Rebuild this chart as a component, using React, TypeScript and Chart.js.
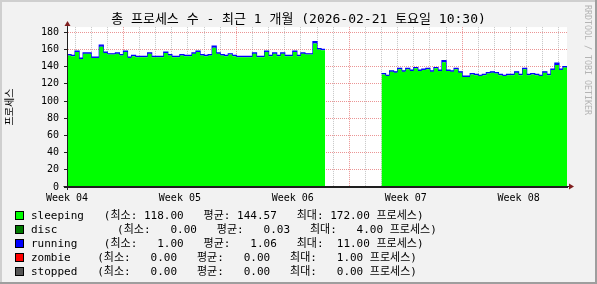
import React, { useEffect, useRef } from 'react';
import { Chart, registerables } from 'chart.js';

Chart.register(...registerables);

// ---- data -------------------------------------------------------------
const STEP_HOURS = 6; // one sample every 6 hours
const TOTAL_HOURS = 744; // one month window

const sleeping: (number | null)[] = [
  153, 152, 157, 149, 155, 155, 150, 150, 163, 156,
  154, 154, 155, 153, 157, 150, 152, 151, 151, 151,
  155, 151, 151, 151, 156, 153, 151, 151, 153, 152,
  152, 155, 157, 153, 152, 153, 162, 155, 153, 152,
  154, 152, 151, 151, 151, 151, 155, 151, 151, 157,
  152, 155, 152, 155, 152, 152, 157, 152, 155, 154,
  154, 167, 160, 159, 159,
  null, null, null, null, null, null, null, null, null, null, null, null, null,
  131, 129, 134, 133, 137, 134, 137, 135, 138, 135,
  136, 137, 134, 138, 135, 145, 135, 134, 137, 133,
  128, 128, 131, 130, 129, 130, 132, 133, 132, 130,
  129, 130, 130, 133, 130, 137, 130, 131, 130, 129,
  133, 130, 136, 142, 136, 139, 136,
];

const disc: (number | null)[] = [
  0, 0, 0, 0, 0, 0, 0, 0, 0, 0, 0, 0, 0, 0, 0, 0, 0, 0, 0, 0,
  0, 0, 0, 0, 0, 0, 0, 0, 0, 0, 0, 0, 0, 0, 0, 0, 0, 0, 0, 0,
  0, 0, 0, 0, 0, 0, 0, 0, 0, 0, 0, 0, 0, 0, 0, 0, 0, 0, 0, 0,
  0, 0, 0, 0, 0,
  null, null, null, null, null, null, null, null, null, null, null, null, null,
  0, 0, 0, 0, 0, 0, 0, 0, 0, 0, 0, 0, 0, 0, 0, 0, 0, 0, 0, 0,
  0, 0, 0, 0, 0, 0, 0, 0, 0, 0, 0, 0, 0, 0, 0, 0, 0, 0, 0, 0,
  0, 0, 0, 0, 0, 0, 0,
];

const running: (number | null)[] = [
  1, 1, 1, 1, 1, 1, 1, 1, 2, 1, 1, 1, 1, 1, 1, 1, 1, 1, 1, 1,
  1, 1, 1, 1, 1, 1, 1, 1, 1, 1, 1, 1, 1, 1, 1, 1, 2, 1, 1, 1,
  1, 1, 1, 1, 1, 1, 1, 1, 1, 1, 1, 1, 1, 1, 1, 1, 1, 1, 1, 1,
  1, 2, 1, 1, 1,
  null, null, null, null, null, null, null, null, null, null, null, null, null,
  1, 1, 1, 1, 1, 1, 1, 1, 1, 1, 1, 1, 1, 1, 1, 2, 1, 1, 1, 1,
  1, 1, 1, 1, 1, 1, 1, 1, 1, 1, 1, 1, 1, 1, 1, 1, 1, 1, 1, 1,
  1, 1, 1, 2, 1, 1, 1,
];

const zombie: (number | null)[] = [
  0, 0, 0, 0, 0, 0, 0, 0, 0, 0, 0, 0, 0, 0, 0, 0, 0, 0, 0, 0,
  0, 0, 0, 0, 0, 0, 0, 0, 0, 0, 0, 0, 0, 0, 0, 0, 0, 0, 0, 0,
  0, 0, 0, 0, 0, 0, 0, 0, 0, 0, 0, 0, 0, 0, 0, 0, 0, 0, 0, 0,
  0, 0, 0, 0, 0,
  null, null, null, null, null, null, null, null, null, null, null, null, null,
  0, 0, 0, 0, 0, 0, 0, 0, 0, 0, 0, 0, 0, 0, 0, 0, 0, 0, 0, 0,
  0, 0, 0, 0, 0, 0, 0, 0, 0, 0, 0, 0, 0, 0, 0, 0, 0, 0, 0, 0,
  0, 0, 0, 0, 0, 0, 0,
];

const stopped: (number | null)[] = [
  0, 0, 0, 0, 0, 0, 0, 0, 0, 0, 0, 0, 0, 0, 0, 0, 0, 0, 0, 0,
  0, 0, 0, 0, 0, 0, 0, 0, 0, 0, 0, 0, 0, 0, 0, 0, 0, 0, 0, 0,
  0, 0, 0, 0, 0, 0, 0, 0, 0, 0, 0, 0, 0, 0, 0, 0, 0, 0, 0, 0,
  0, 0, 0, 0, 0,
  null, null, null, null, null, null, null, null, null, null, null, null, null,
  0, 0, 0, 0, 0, 0, 0, 0, 0, 0, 0, 0, 0, 0, 0, 0, 0, 0, 0, 0,
  0, 0, 0, 0, 0, 0, 0, 0, 0, 0, 0, 0, 0, 0, 0, 0, 0, 0, 0, 0,
  0, 0, 0, 0, 0, 0, 0,
];

const seriesNames = ['sleeping', 'disc', 'running', 'zombie', 'stopped'];
const seriesValues = [sleeping, disc, running, zombie, stopped];
const seriesColors = ['#00FF00', '#007A00', '#0000FF', '#FF0000', '#555555'];
const statMin = [118.0, 0.0, 1.0, 0.0, 0.0];
const statAvg = [144.57, 0.03, 1.06, 0.0, 0.0];
const statMax = [172.0, 4.0, 11.0, 1.0, 0.0];

const weekLabels = ['Week 04', 'Week 05', 'Week 06', 'Week 07', 'Week 08'];
const weekLabelHours = [0, 168, 336, 504, 672];
const weekStartHours = [84, 252, 420, 588];
const firstMidnightHour = 12;

const yTickLabels = ['0', '20', '40', '60', '80', '100', '120', '140', '160', '180'];

const TITLE = '총 프로세스 수 - 최근 1 개월 (2026-02-21 토요일 10:30)';
const Y_TITLE = '프로세스';
const WATERMARK = 'RRDTOOL / TOBI OETIKER';

// ---- styles -----------------------------------------------------------
const MONO = "'DejaVu Sans Mono', 'Noto Sans CJK KR', monospace";
const BACK = '#F2F2F2';
const SHADE_A = '#CFCFCF';
const SHADE_B = '#9E9E9E';
const MINOR_GRID = 'rgba(140,140,140,0.5)';
const MAJOR_GRID = 'rgba(222,79,79,0.6)';
const AXIS = '#1F1F1F';
const ARROW = '#801F1F';
const NONE = 'rgba(0,0,0,0)';

const legendPad = [11, 13, 11, 10, 10];
const fmt = (v: number) => v.toFixed(2).padStart(6, ' ');

const rrdPlugin = {
  id: 'rrdDecor',
  beforeDraw(chart: any) {
    const { ctx, width, height, chartArea } = chart;
    ctx.save();
    ctx.fillStyle = BACK;
    ctx.fillRect(0, 0, width, height);
    ctx.fillStyle = SHADE_A;
    ctx.fillRect(0, 0, width, 2);
    ctx.fillRect(0, 0, 2, height);
    ctx.fillStyle = SHADE_B;
    ctx.fillRect(0, height - 2, width, 2);
    ctx.fillRect(width - 2, 0, 2, height);
    ctx.fillStyle = '#FFFFFF';
    ctx.fillRect(chartArea.left, chartArea.top, chartArea.right - chartArea.left, chartArea.bottom - chartArea.top);
    ctx.restore();
  },
  afterDraw(chart: any) {
    const { ctx, chartArea, width } = chart;
    const ax = Math.round(chartArea.left) + 0.5;
    const ay = Math.round(chartArea.bottom) - 0.5;
    ctx.save();
    ctx.strokeStyle = AXIS;
    ctx.lineWidth = 1;
    ctx.beginPath();
    ctx.moveTo(ax, chartArea.top - 1);
    ctx.lineTo(ax, chartArea.bottom + 3);
    ctx.moveTo(ax - 4, ay);
    ctx.lineTo(chartArea.right + 2, ay);
    ctx.stroke();
    ctx.fillStyle = ARROW;
    ctx.beginPath();
    ctx.moveTo(ax, chartArea.top - 6);
    ctx.lineTo(ax - 3, chartArea.top - 1);
    ctx.lineTo(ax + 3, chartArea.top - 1);
    ctx.closePath();
    ctx.fill();
    ctx.beginPath();
    ctx.moveTo(chartArea.right + 7, ay);
    ctx.lineTo(chartArea.right + 2, ay - 3);
    ctx.lineTo(chartArea.right + 2, ay + 3);
    ctx.closePath();
    ctx.fill();

    // legend
    ctx.font = `11px ${MONO}`;
    ctx.textBaseline = 'alphabetic';
    ctx.textAlign = 'left';
    const legendTop = chartArea.bottom + 24;
    seriesNames.forEach((name, i) => {
      const top = Math.round(legendTop + i * 14.1);
      ctx.fillStyle = seriesColors[i];
      ctx.fillRect(15, top, 9, 9);
      ctx.strokeStyle = '#000000';
      ctx.strokeRect(15.5, top + 0.5, 8, 8);
      const line =
        name.padEnd(legendPad[i], ' ') +
        `(최소: ${fmt(statMin[i])}   평균: ${fmt(statAvg[i])}   최대: ${fmt(statMax[i])} 프로세스)`;
      ctx.fillStyle = '#000000';
      ctx.fillText(line, 31, top + 7.5);
    });

    // watermark
    ctx.translate(width - 9.5, 5);
    ctx.rotate(Math.PI / 2);
    ctx.font = `8.3px ${MONO}`;
    ctx.fillStyle = '#B4B4B4';
    ctx.textBaseline = 'middle';
    ctx.fillText(WATERMARK, 0, 0);
    ctx.restore();
  },
};

export default function App() {
  const ref = useRef<HTMLCanvasElement | null>(null);

  useEffect(() => {
    document.body.style.margin = '0';
    const canvas = ref.current;
    if (!canvas) return;

    const hours = sleeping.map((_, i) => i * STEP_HOURS);
    const toPoints = (arr: (number | null)[]) => arr.map((v, i) => ({ x: hours[i], y: v }));

    const xTickHours: number[] = [...weekLabelHours];
    for (let h = firstMidnightHour; h <= TOTAL_HOURS; h += 24) xTickHours.push(h);
    xTickHours.sort((a, b) => a - b);
    const yTickValues: number[] = [];
    for (let v = 0; v <= 180; v += 10) yTickValues.push(v);

    const chart = new Chart(canvas, {
      type: 'line',
      data: {
        datasets: seriesNames.map((name, i) => ({
          label: name,
          data: toPoints(seriesValues[i]),
          backgroundColor: seriesColors[i],
          borderColor: seriesColors[i],
          borderWidth: name === 'running' ? 1.2 : 0,
          pointRadius: 0,
          fill: i === 0 ? 'origin' : '-1',
          stepped: 'before' as const,
          spanGaps: false,
        })),
      },
      options: {
        animation: false,
        responsive: false,
        events: [],
        layout: { padding: { left: 0, right: 0, top: 0, bottom: 77 } },
        plugins: {
          legend: { display: false },
          tooltip: { enabled: false },
          title: {
            display: true,
            text: TITLE,
            color: '#000000',
            font: { family: MONO, size: 13, weight: 'normal' },
            padding: { top: 11.5, bottom: 0 },
          },
        },
        scales: {
          x: {
            type: 'linear',
            min: 0,
            max: TOTAL_HOURS,
            z: 1,
            afterBuildTicks: (scale: any) => {
              scale.ticks = xTickHours.map((v) => ({ value: v }));
            },
            afterFit: (scale: any) => {
              scale.height = 20;
            },
            grid: {
              drawTicks: false,
              lineWidth: 1,
              color: (c: any) => {
                const v = c.tick ? c.tick.value : -1;
                if (weekLabelHours.includes(v)) return NONE;
                if (weekStartHours.includes(v)) return MAJOR_GRID;
                return MINOR_GRID;
              },
            },
            border: { color: AXIS, width: 1, dash: [1, 1] },
            ticks: {
              autoSkip: false,
              maxRotation: 0,
              minRotation: 0,
              padding: 5,
              color: '#000000',
              font: { family: MONO, size: 10 },
              callback: (value: any) => {
                const k = weekLabelHours.indexOf(Number(value));
                return k >= 0 ? weekLabels[k] : '';
              },
            },
          },
          y: {
            type: 'linear',
            stacked: true,
            min: 0,
            max: 186,
            z: 1,
            afterBuildTicks: (scale: any) => {
              scale.ticks = yTickValues.map((v) => ({ value: v }));
            },
            afterFit: (scale: any) => {
              scale.width = 67;
            },
            title: {
              display: true,
              text: Y_TITLE,
              color: '#000000',
              font: { family: MONO, size: 10 },
              padding: { top: 4.5, bottom: 0 },
            },
            grid: {
              lineWidth: 1,
              tickLength: 3,
              color: (c: any) => {
                const v = c.tick ? c.tick.value : -1;
                if (v === 0) return NONE;
                return v % 20 === 0 ? MAJOR_GRID : MINOR_GRID;
              },
              tickColor: (c: any) => {
                const v = c.tick ? c.tick.value : -1;
                return v % 20 === 0 ? AXIS : NONE;
              },
            },
            border: { color: AXIS, width: 1, dash: [1, 1] },
            ticks: {
              padding: 5,
              color: '#000000',
              font: { family: MONO, size: 10 },
              callback: (value: any) => {
                const v = Number(value);
                return v % 20 === 0 ? yTickLabels[v / 20] : '';
              },
            },
          },
          y2: {
            type: 'linear',
            position: 'right',
            display: true,
            afterFit: (scale: any) => {
              scale.width = 30;
            },
            grid: { display: false, drawOnChartArea: false },
            ticks: { display: false },
            border: { display: false },
          },
        },
      } as any,
      plugins: [rrdPlugin],
    });

    return () => chart.destroy();
  }, []);

  return (
    <div style={{ position: 'fixed', left: 0, top: 0, width: 597, height: 284 }}>
      <canvas ref={ref} width={597} height={284} style={{ display: 'block', width: 597, height: 284 }} />
    </div>
  );
}
